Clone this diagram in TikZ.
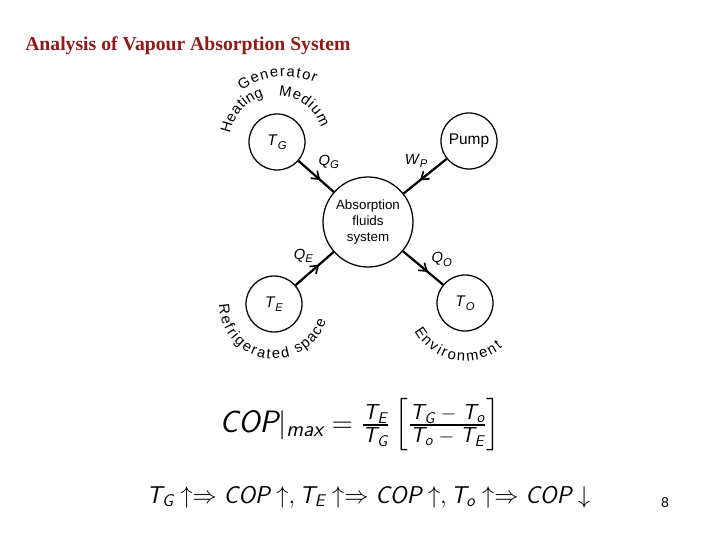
\documentclass[tikz,border=0pt]{standalone}
\usepackage{amsmath}
\usepackage{fontspec}
\usepackage{tikz}
\usepackage{xcolor}
\usetikzlibrary{arrows.meta,positioning,calc,decorations.markings,decorations.text}
\newfontfamily\letterfont{Liberation Sans}
\newfontfamily\titlefont{Liberation Serif}
\definecolor{slidered}{HTML}{8E1A1A}
\newcommand\sfi[1]{\textsf{\itshape #1}}
\newcommand\tsub[1]{\sfi{T}_{\sfi{#1}}}
\newcommand\flowlbl[2]{\textit{#1}\raisebox{-0.45ex}{\footnotesize\textit{#2}}}
\newcommand\curvefont{\letterfont\fontsize{10.5}{12}\selectfont}

\begin{document}
\begin{tikzpicture}[
    res/.style={draw, circle, line width=0.9pt, minimum size=1.4cm, inner sep=0pt,
                font=\letterfont\fontsize{11}{13}\selectfont},
    sys/.style={draw, circle, line width=0.9pt, minimum size=2.25cm, inner sep=0pt,
                align=center, font=\letterfont\fontsize{9.5}{11.5}\selectfont},
    flow/.style={line width=1.6pt, postaction={decorate},
                 decoration={markings, mark=at position 0.62 with
                   {\arrow{Straight Barb[length=5pt,width=7pt,line width=1.2pt]}}}},
    qlbl/.style={font=\letterfont\fontsize{10.5}{12}\selectfont, inner sep=1pt},
    arctext/.style={decorate, decoration={text along path, text align=fit to path,
                    text={|\curvefont|#1}}}
]
  \fill[white] (0,0) rectangle (18,13.5);
  \useasboundingbox (0,0) rectangle (18,13.5);

  % Slide title
  \node[anchor=west, inner sep=0pt, text=slidered,
        font=\titlefont\bfseries\fontsize{14}{16}\selectfont] (title) at (0.625,12.35)
    {Analysis of Vapour Absorption System};

  % Reservoirs round the system
  \node[res] (gen)  at (6.925,9.95)  {\flowlbl{T}{G}};
  \node[res] (pump) at (11.725,9.975) {Pump};
  \node[res] (evap) at (6.85,5.9)    {\flowlbl{T}{E}};
  \node[res] (env)  at (11.625,5.925) {\flowlbl{T}{O}};
  \node[sys] (sys)  at (9.2,7.95) {Absorption\\fluids\\system};

  % Energy flows
  \draw[flow] (gen) -- node[qlbl, above right, yshift=0.12cm] {\flowlbl{Q}{G}} (sys);
  \draw[flow] (pump) -- node[qlbl, above left, xshift=0.12cm, yshift=0.15cm] {\flowlbl{W}{P}} (sys);
  \draw[flow] (evap) -- node[qlbl, above left, xshift=0.02cm, yshift=0.08cm] {\flowlbl{Q}{E}} (sys);
  \draw[flow] (sys) -- node[qlbl, above right, xshift=0.15cm, yshift=-0.03cm] {\flowlbl{Q}{O}} (env);

  % Lettering along the circles
  \coordinate (gencentre) at ($(gen)+(0.2,-0.2)$);
  \path[arctext=Generator] ($(gencentre)+(126:1.84)$) arc[start angle=126, end angle=66, radius=1.84];
  \path[arctext=Heating] ($(gen)+(170:1.19)$) arc[start angle=170, end angle=106, radius=1.19];
  \path[arctext=Medium] ($(gen)+(88:1.16)$) arc[start angle=88, end angle=18, radius=1.16];
  \path[arctext=Refrigerated] ($(evap)+(181:1.37)$) arc[start angle=181, end angle=287, radius=1.37];
  \path[arctext=space] ($(evap)+(295:1.37)$) arc[start angle=295, end angle=342, radius=1.37];
  \path[arctext=Environment] ($(env)+(209:1.45)$) arc[start angle=209, end angle=310, radius=1.45];

  % COP relations
  \node[font=\fontsize{22}{26}\selectfont] (copmax) at (9.0,2.875)
    {$\sfi{COP}|_{\sfi{max}} = \frac{\tsub{E}}{\tsub{G}}
      \left[\frac{\tsub{G}\;-\;\tsub{o}}{\tsub{o}\;-\;\tsub{E}}\right]$};
  \node[font=\fontsize{17.28}{21}\selectfont] (trend) at (9.21,1.075)
    {$\tsub{G}\uparrow\Rightarrow \sfi{COP}\uparrow, \tsub{E}\uparrow\Rightarrow \sfi{COP}\uparrow,
      \tsub{o}\uparrow\Rightarrow \sfi{COP}\downarrow$};

  \node[font=\letterfont\fontsize{10}{12}\selectfont] (pagenum) at (16.625,0.925) {8};
\end{tikzpicture}
\end{document}
